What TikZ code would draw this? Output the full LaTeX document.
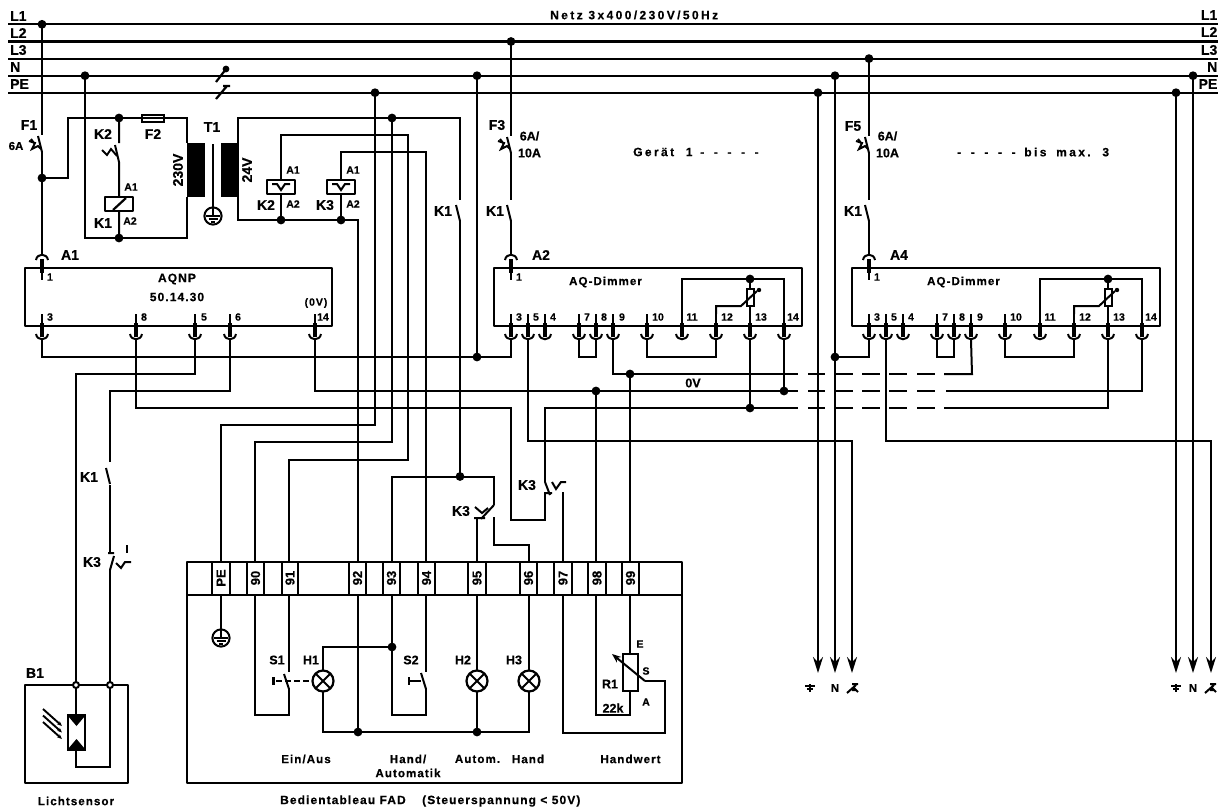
\documentclass[tikz,border=0pt]{standalone}
\usepackage{fontspec}
\setmainfont{Liberation Sans}
\newfontfamily\fa[BoldFeatures={FakeBold=0.5}]{Liberation Sans}
\newfontfamily\fb[LetterSpace=9,BoldFeatures={FakeBold=0.5}]{Liberation Sans}
\newfontfamily\fc[LetterSpace=20,BoldFeatures={FakeBold=0.5}]{Liberation Sans}
\usetikzlibrary{arrows.meta,calc}
\newcount\tc
\newcommand\T[3][]{\global\advance\tc by 1 \node[lab,#1] (t\the\tc) at (#2) {#3};}
\newcommand\jn[2]{\coordinate (#1) at (#2); \fill (#1) circle (4.4);}
\newcommand\pinb[4]{% name, x, label, label x offset
  \coordinate (#1) at (#2,340);
  \draw[wire] (#2,314) -- (#2,323);
  \draw[line width=3.6] (#2,323) -- (#2,337);
  \draw[wire] (#2-6,334) .. controls (#2-5,341) and (#2+5,341) .. (#2+6,334);
  \T[pinl]{#2+#4,317}{#3}}
\newcommand\pint[2]{% name, x
  \coordinate (#1) at (#2,254);
  \draw[line width=3.6] (#2,259) -- (#2,273);
  \draw[wire] (#2,273) -- (#2,280);
  \draw[wire] (#2-6,260) .. controls (#2-5,253) and (#2+5,253) .. (#2+6,260);
  \T[pinl]{#2+8,277}{1}}
\newcommand\lampsym[2]{% name, x,y
  \coordinate (#1) at (#2);
  \draw[wire,line width=2.2] (#1) circle (10.5);
  \draw[wire] ($(#1)+(-7.4,-7.4)$) -- ($(#1)+(7.4,7.4)$) ($(#1)+(-7.4,7.4)$) -- ($(#1)+(7.4,-7.4)$);}
\newcommand\gndsym[2]{% name, x,y
  \coordinate (#1) at (#2);
  \draw[wire] (#1) circle (8.6);
  \begin{scope}[shift={(#1)}]
  \draw[wire] (-7,0) -- (7,0) (-4.5,3) -- (4.5,3);
  \draw[wire] (0,-8) -- (0,0);
  \draw[line width=1.8] (-2,6) -- (2,6);
  \end{scope}}
\newcommand\fusesym[1]{% thermal trip, x of wire
  \draw[line width=2] (#1-13,141) -- (#1-7,143) -- (#1-10,149) -- (#1-4,146) -- (#1-1,149)
     (#1-11,139) -- (#1-8,143);}
\newcommand\nocontact[2]{% x, y top
  \draw[wire] (#1-4,#2+5) -- (#1,#2+21);}
\newcommand\gndlab[1]{\draw[line width=2] (#1-5,686) -- (#1+5,686) (#1-3,689) -- (#1+3,689);\draw[line width=2.4] (#1,684) -- (#1,692);}
\newcommand\scrib[1]{\draw[line width=2] (#1,693) -- (#1+9,685) (#1+5,684) -- (#1+11,684) (#1+7,688) -- (#1+11,692) (#1+5,690) -- (#1+9,690);}
\newcommand\dd{-\hspace{9.6pt}}
\begin{document}
\begin{tikzpicture}[x=1pt,y=-1pt,line join=miter,
  wire/.style={line width=2},
  boxl/.style={line width=2.6,line join=round},
  lab/.style={inner sep=0pt,font=\fa\bfseries\fontsize{14}{15}\selectfont},
  mid/.style={font=\fb\bfseries\fontsize{11.6}{13.5}\selectfont},
  smal/.style={font=\fa\bfseries\fontsize{10.5}{12}\selectfont},
  pinl/.style={font=\fa\bfseries\fontsize{10.5}{12}\selectfont},
  pan/.style={font=\fa\bfseries\fontsize{12.5}{14}\selectfont},
  cellt/.style={rotate=90,font=\fa\bfseries\fontsize{13}{14}\selectfont},
  arr/.style={wire,-{Stealth[length=16pt,width=10pt]}}]
\useasboundingbox (0,0) rectangle (1218,809);
\fill[white] (0,0) rectangle (1218,809);
\clip (0,0) rectangle (1218,809);

% ---- bus
\foreach \y in {24.3,41.5,58.6,75.7,92.7} \draw[wire,line width=2.2] (8,\y) -- (1218,\y);
\T[anchor=west]{10,16}{L1}\T[anchor=west]{10,33}{L2}\T[anchor=west]{10,50}{L3}
\T[anchor=west]{10,67}{N}\T[anchor=west]{10,84}{PE}
\T[anchor=east]{1217.5,15}{L1}\T[anchor=east]{1217.5,32}{L2}\T[anchor=east]{1217.5,50}{L3}
\T[anchor=east]{1217.5,67}{N}\T[anchor=east]{1217.5,84}{PE}
\T[font=\fc\bfseries\fontsize{12}{13}\selectfont,anchor=west]{550,15}{Netz 3x400/230V/50Hz}
\jn{bL1}{42,24.3}\jn{bN1}{85,75.7}\jn{bPE1}{375,92.7}\jn{bN2}{477,75.7}\jn{bL2}{511,41.5}
\jn{bPE2}{818,92.7}\jn{bN3}{835,75.7}\jn{bL3}{869,58.6}\jn{bPE3}{1176,92.7}\jn{bN4}{1193,75.7}
% neutral tap marks
\fill (226,69) circle (3.4);
\draw[line width=2.2] (216,82) -- (226,69);
\draw[line width=2.2] (216,99) -- (227,86) (223,86) -- (230,86);

% ---- F1 and supply
\draw[wire] (bL1) -- (42,135);
\nocontact{42}{131}
\fusesym{42}
\jn{dF1}{42,178}
\coordinate (a1in) at (42,254);
\draw[wire] (42,152) -- (a1in);
\T{29,125}{F1}\T[font=\fa\bfseries\fontsize{11.5}{13}\selectfont]{16,146}{6A}
% primary
\jn{dK2}{119,118}\jn{dK1}{119,238}
\draw[wire] (dF1) -- (68,178) -- (68,118) -- (dK2) -- (187,118) -- (187,143);
\draw[wire] (187,197) -- (187,238) -- (dK1) -- (85,238) -- (bN1);
\draw[wire,fill=white] (142,114.5) rectangle (164,121.5);
\draw[line width=1.2] (142,118) -- (164,118);
\T{153,134}{F2}\T{103,134}{K2}\T{103,223}{K1}\T{212,127}{T1}
\T[smal]{131,187}{A1}\T[smal]{130,221}{A2}
\draw[wire] (dK2) -- (119,143) (115,145) -- (119,162) -- (119,197) (119,211) -- (dK1);
\draw[line width=1.9] (102,150) -- (107,155) -- (111,149) -- (117,156);
\draw[boxl] (105,197) rectangle (133,211);
\draw[line width=2.2] (113,210) -- (126,198);
% transformer
\fill (187,143) rectangle (205,197);
\fill (221,143) rectangle (239,197);
\draw[wire] (213,144) -- (213,207);
\gndsym{g1}{213,216}
\T[rotate=90]{178,170}{230V}\T[rotate=90]{247,170}{24V}
% secondary
\jn{dS1}{392,118}\jn{dC2}{281,220}\jn{dC3}{341,220}
\draw[wire] (238,143) -- (238,118) -- (dS1) -- (460,118) -- (460,200);
\draw[wire] (238,197) -- (238,220) -- (dC2) -- (dC3) -- (358,220) -- (358,561);
\draw[wire] (281,180) -- (281,135) -- (408,135) -- (408,460) -- (289,460) -- (289,561);
\draw[wire] (341,180) -- (341,152) -- (426,152) -- (426,561);
\draw[wire] (281,194) -- (dC2) (341,194) -- (dC3);
\foreach \x in {281,341}{
  \draw[boxl] (\x-14,180) rectangle (\x+14,194);
  \draw[line width=2] (\x-9,184) -- (\x-4,184) -- (\x,190) -- (\x+4,184) -- (\x+9,184);}
\T[smal]{293,170}{A1}\T[smal]{293,204}{A2}\T{266,205}{K2}
\T[smal]{353,170}{A1}\T[smal]{353,204}{A2}\T{325,205}{K3}
% PE and 90 feeds
\draw[wire] (bPE1) -- (375,425) -- (221,425) -- (221,561);
\draw[wire] (dS1) -- (392,442) -- (255,442) -- (255,561);
% K1 in 460
\nocontact{460}{200}
\draw[wire] (460,221) -- (460,476);
\T{443,211}{K1}

% ---- A1
\draw[boxl] (25,268) rectangle (332,326);
\pint{a1t}{42}
\pinb{a1p3}{42}{3}{8}\pinb{a1p8}{136}{8}{8}\pinb{a1p5}{195}{5}{9}\pinb{a1p6}{230}{6}{8}\pinb{a1p14}{315}{14}{8}
\T[font=\fb\bfseries\fontsize{12}{13}\selectfont]{177,279}{AQNP}
\T[font=\fb\bfseries\fontsize{12}{13}\selectfont]{177,297}{50.14.30}
\T[font=\fb\bfseries\fontsize{10.5}{12}\selectfont]{316,303}{(0V)}
\T{70,255}{A1}

% ---- dimmers
\foreach \nm/\sh/\lab in {a2/0/A2,a4/358/A4}{
\begin{scope}[xshift=\sh pt]
\draw[boxl] (494,268) rectangle (802,326);
\pint{\nm t}{511}
\pinb{\nm p3}{511}{3}{8}\pinb{\nm p5}{528}{5}{8}\pinb{\nm p4}{545}{4}{8}
\pinb{\nm p7}{579}{7}{8}\pinb{\nm p8}{596}{8}{8}\pinb{\nm p9}{613}{9}{9}
\pinb{\nm p10}{647}{10}{11}\pinb{\nm p11}{682}{11}{10}\pinb{\nm p12}{716}{12}{11}
\pinb{\nm p13}{750}{13}{11}\pinb{\nm p14}{784}{14}{9}
\draw[wire] (\nm p7) -- (579,357) -- (596,357) -- (\nm p8);
\draw[wire] (\nm p10) -- (647,357) -- (716,357) -- (\nm p12);
\coordinate (\nm r) at (750,279);
\draw[wire] (682,314) -- (682,279) -- (784,279) -- (784,314);
\draw[wire] (750,279) -- (750,289) (750,306) -- (750,314);
\fill (\nm r) circle (4.4);
\draw[wire] (746.5,289) rectangle (754,306);
\draw[wire] (716,314) -- (716,306) -- (741,306) -- (757,291);
\fill (759,290) circle (2.2);
\T[font=\fb\bfseries\fontsize{11.6}{13}\selectfont]{605.5,282}{AQ-Dimmer}
\T{541,255}{\lab}
\T{495,211}{K1}
\T[pan]{529.5,136}{6A/}\T[pan]{529.5,153}{10A}
\end{scope}}
\T{497,125}{F3}\T{853,126}{F5}
% F3, F5 feeds
\draw[wire] (bL2) -- (511,136);\nocontact{511}{132}\fusesym{511}
\draw[wire] (511,153) -- (511,200);\nocontact{511}{200}\draw[wire] (511,221) -- (a2t);
\draw[wire] (bL3) -- (869,136);\nocontact{869}{132}\fusesym{869}
\draw[wire] (869,153) -- (869,200);\nocontact{869}{200}\draw[wire] (869,221) -- (a4t);

% ---- control wiring
\jn{dN2}{477,357}\jn{dN3}{835,357}
\draw[wire] (bN2) -- (dN2);
\draw[wire] (a1p3) |- (dN2) -| (a2p3);
\draw[wire] (a4p3) |- (dN3);
\draw[wire] (a1p5) -- (195,374) -- (76,374) -- (76,685);
\draw[wire] (a1p6) -- (230,391) -- (110,391) -- (110,462);
\nocontact{110}{463}
\draw[wire] (110,485) -- (110,552);
\draw[wire] (a1p8) -- (136,408) -- (511,408) -- (511,520) -- (545,520) -- (545,493);
\draw[wire] (545,482) -- (545,408) -- (798,408);
\draw[wire] (a1p14) -- (315,391) -- (798,391);
\draw[wire] (a2p9) -- (613,374) -- (798,374);
\jn{d374}{630,374}\jn{d391a}{596,391}\jn{d391b}{784,391}\jn{d408}{750,408}
\draw[wire] (a2p13) -- (d408);
\draw[wire] (a2p14) -- (d391b);
\draw[wire] (d391a) -- (596,561);
\draw[wire] (d374) -- (630,561);
\T[pan]{693,383}{0V}
\foreach \y in {374,391,408}\foreach \a/\b in {808/825,835/853,862/880,889/907,917/935}
  \draw[wire] (\a,\y) -- (\b,\y);
\draw[wire] (944,374) -- (972,374) -- (a4p9);
\draw[wire] (946,391) -- (1142,391) -- (a4p14);
\draw[wire] (944,408) -- (1108,408) -- (a4p13);
\draw[wire] (a2p5) -- (528,441) -- (852,441) -- (852,600);
\draw[wire] (a4p5) -- (886,441) -- (1211,441);
% outgoing arrows
\draw[arr] (bPE2) -- (818,673);\draw[arr] (bN3) -- (835,673);\draw[arr] (852,440) -- (852,673);
\draw[arr] (bPE3) -- (1176,673);\draw[arr] (bN4) -- (1193,673);\draw[arr] (1211,440) -- (1211,673);
\gndlab{810}\T[font=\fa\bfseries\fontsize{11}{12}\selectfont]{835,688}{N}\scrib{847}
\gndlab{1176}\T[font=\fa\bfseries\fontsize{11}{12}\selectfont]{1193,688}{N}\scrib{1205}

% K3 at 110
\draw[line width=2] (108,553) -- (114,553) (114,556) -- (110,570);
\draw[wire] (110,570) -- (110,685);
\draw[line width=2] (116,563) -- (121,568) -- (125,562) -- (131,562);
\draw[line width=2.2] (127,545) -- (127,553);
\T{89,477}{K1}\T{92,562}{K3}

% K3 contacts above the panel
\jn{dK3}{460,476.5}
\draw[wire] (392,561) -- (392,476.5) -- (dK3) -- (494,476.5) -- (494,505);
\draw[wire] (494,505) -- (481,519) (474,518) -- (485,518);
\draw[wire] (477,561) -- (477,518);
\draw[line width=2] (475,507) -- (482,513) -- (488,508);
\draw[wire] (494,517) -- (494,544.5) -- (529,544.5) -- (529,561);
\T{461,511}{K3}
\draw[wire] (545,482) -- (550,495) (544,493) -- (552,493);
\draw[line width=2] (552,482) -- (556,489) -- (561,482) -- (566,482);
\draw[wire] (563,492) -- (563,561);
\T{527,485}{K3}

% ---- panel
\draw[line width=2.8,line join=round] (187,562) rectangle (682,783);
\draw[line width=2.8] (187,595) -- (682,595);
\foreach \x/\w/\t in {212/18/PE,247/17/90,282/16/91,349/17/92,383/17/93,418/17/94,468/18/95,520/17/96,554/18/97,588/18/98,622/17/99}{
  \draw[wire] (\x,562) -- (\x,595) (\x+\w,562) -- (\x+\w,595);
  \T[cellt]{\x+\w/2,578}{\t}}
% below terminals
\draw[wire] (221,595) -- (221,629);
\gndsym{g2}{221,638}
\draw[wire] (255,595) -- (255,715) -- (289,715) -- (289,689);
\draw[wire] (289,595) -- (289,672);
\draw[wire] (284,674) -- (289,689);
\draw[wire,dash pattern=on 6pt off 3pt] (276,681) -- (312,681);
\draw[line width=2.6] (273.5,677) -- (273.5,685);
\lampsym{h1}{323,681}
\lampsym{h2}{477,681}
\lampsym{h3}{529,681}
\jn{dH1}{392,647}\jn{dG}{358,732}\jn{dH2}{477,732}
\draw[wire] (h1)++(0,-10.5) -- (323,647) -- (dH1);
\draw[wire] (h1)++(0,10.5) -- (323,732) -- (dG) -- (dH2) -- (529,732) -- (529,691.5);
\draw[wire] (358,595) -- (dG);
\draw[wire] (392,595) -- (392,715) -- (426,715) -- (426,689);
\draw[wire] (426,595) -- (426,672);
\draw[wire] (421,673) -- (426,689);
\draw[line width=2] (410,681) -- (421,681);
\draw[line width=2.6] (409,677) -- (409,685);
\draw[wire] (477,595) -- (477,670.5) (477,691.5) -- (dH2);
\draw[wire] (529,595) -- (529,670.5);
% R1
\draw[wire] (623,654) rectangle (638,691);
\draw[wire] (630,595) -- (630,654) (630,691) -- (630,715) -- (596,715) -- (596,595);
\draw[wire] (563,595) -- (563,733) -- (665,733) -- (665,681) -- (645,681);
\draw[wire,-{Stealth[length=9pt,width=7pt]}] (645,681) -- (612,654);
\T[pinl]{640,644}{E}\T[pinl]{646,671}{S}\T[pinl]{646,702}{A}
\T[pan]{610,684}{R1}\T[pan]{613,708}{22k}
\T[pan]{277,660}{S1}\T[pan]{311,660}{H1}\T[pan]{411,660}{S2}\T[pan]{463,660}{H2}\T[pan]{514,660}{H3}
\T[mid]{306,759}{Ein/Aus}
\T[mid]{408,759}{Hand/}\T[mid]{408,773}{Automatik}
\T[mid]{477.5,759}{Autom.}
\T[mid]{528,759}{Hand}
\T[mid]{630.5,759}{Handwert}
\T[mid]{76,801}{Lichtsensor}
\T[font=\fb\bfseries\fontsize{12}{13}\selectfont,anchor=west]{280,801}{Bedientableau FAD\hspace{12pt} (Steuerspannung < 50V)}

\T[font=\fc\bfseries\fontsize{12}{13}\selectfont,anchor=west]{633,152}{Gerät\hspace{6pt} 1\hspace{2pt} \dd\dd\dd\dd-}
\T[font=\fc\bfseries\fontsize{12}{13}\selectfont,anchor=west]{957,152}{\dd\dd\dd\dd-\hspace{3pt} bis\hspace{4pt} max.\hspace{4pt} 3}

% ---- B1
\draw[line width=2.8,line join=round] (25,685) rectangle (128,783);
\draw[wire] (76,685) -- (76,715) (76,750) -- (76,767) -- (110,767) -- (110,685);
\draw[wire,fill=white,draw=black,line width=2.4] (68,715.5) rectangle (85,750);
\fill (68,716) -- (85,716) -- (76.5,726) -- cycle;
\fill (68,749) -- (85,749) -- (76.5,739) -- cycle;
\foreach \d in {0,6.5,13}
  \draw[line width=1.9,-{Stealth[length=5pt,width=4pt]}] (43,709+\d) -- (62,726+\d);
\draw[wire,fill=white] (76,685) circle (3);
\draw[wire,fill=white] (110,685) circle (3);
\T{35,673}{B1}
\end{tikzpicture}
\end{document}
